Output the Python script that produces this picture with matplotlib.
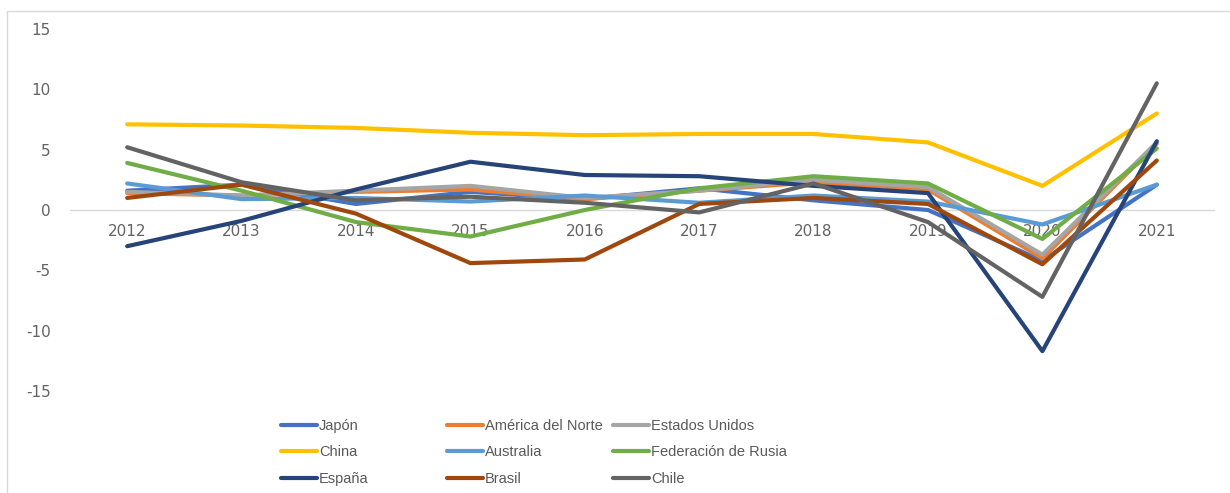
import matplotlib
matplotlib.use("Agg")
import matplotlib.pyplot as plt
from matplotlib.patches import Rectangle

years = ["2012", "2013", "2014", "2015", "2016", "2017", "2018", "2019", "2020", "2021"]

japon = [1.6, 2.1, 0.5, 1.5, 0.9, 1.8, 0.8, 0.0, -4.2, 2.1]
america_norte = [1.4, 1.2, 1.5, 1.7, 0.9, 1.6, 2.3, 1.7, -4.0, 5.5]
estados_unidos = [1.5, 1.2, 1.6, 2.0, 1.0, 1.6, 2.5, 1.9, -3.7, 5.6]
china = [7.1, 7.0, 6.8, 6.4, 6.2, 6.3, 6.3, 5.6, 2.0, 8.0]
australia = [2.2, 0.9, 1.0, 0.7, 1.2, 0.6, 1.2, 0.7, -1.2, 2.1]
rusia = [3.9, 1.6, -1.0, -2.2, 0.0, 1.8, 2.8, 2.2, -2.4, 5.1]
espana = [-3.0, -0.9, 1.7, 4.0, 2.9, 2.8, 2.0, 1.4, -11.7, 5.7]
brasil = [1.0, 2.1, -0.3, -4.4, -4.1, 0.5, 1.0, 0.5, -4.5, 4.1]
chile = [5.2, 2.3, 0.8, 1.1, 0.6, -0.2, 2.2, -1.0, -7.2, 10.5]

series_names = ["Japón", "América del Norte", "Estados Unidos", "China", "Australia",
                "Federación de Rusia", "España", "Brasil", "Chile"]
series_values = [japon, america_norte, estados_unidos, china, australia,
                 rusia, espana, brasil, chile]
series_colors = ["#4472C4", "#ED7D31", "#A5A5A5", "#FFC000", "#5B9BD5",
                 "#70AD47", "#264478", "#9E480E", "#636363"]

y_ticks = [-15, -10, -5, 0, 5, 10, 15]
y_tick_labels = ["-15", "-10", "-5", "0", "5", "10", "15"]

W, H = 1230, 493
fig = plt.figure(figsize=(W / 100, H / 100), dpi=100)
ax = fig.add_axes([70 / W, 1 - 391 / H, (1214 - 70) / W, (391 - 29) / H])

x = list(range(len(years)))
handles = []
for name, vals, col in zip(series_names, series_values, series_colors):
    (h,) = ax.plot(x, vals, color=col, lw=3.0, label=name, solid_capstyle="round",
                   solid_joinstyle="round")
    handles.append(h)

ax.set_xlim(-0.5, len(years) - 0.5)
ax.set_ylim(-15, 15)
ax.set_yticks(y_ticks)
ax.set_yticklabels(y_tick_labels)
ax.set_xticks(x)
ax.set_xticklabels(years)

for s in ["left", "right", "top"]:
    ax.spines[s].set_visible(False)
ax.spines["bottom"].set_position(("data", 0))
ax.spines["bottom"].set_color("#D9D9D9")
ax.spines["bottom"].set_linewidth(1.0)
ax.spines["bottom"].set_zorder(0)

ax.tick_params(axis="both", length=0, colors="#636363", labelsize=11)
ax.tick_params(axis="x", pad=10)
ax.tick_params(axis="y", pad=14)
for lbl in ax.get_xticklabels() + ax.get_yticklabels():
    lbl.set_family("DejaVu Sans")
ax.patch.set_visible(False)

# legend: three columns, filled row-wise
col_x = [281, 447, 613]
for c in range(3):
    hs = handles[c::3]
    fig.legend(hs, [h.get_label() for h in hs], loc="upper left",
               bbox_to_anchor=(col_x[c] / W, 1 - 419 / H), frameon=False,
               borderpad=0, borderaxespad=0, handlelength=2.45, handletextpad=0.15,
               labelspacing=0.85, prop={"family": "Liberation Sans", "size": 10.5},
               labelcolor="#595959")

fig.patches.append(Rectangle((7 / W, -0.1), 1.2, 1.1 - 11 / H, transform=fig.transFigure,
                             fill=False, edgecolor="#D9D9D9", lw=1.0))

fig.savefig("out.png", dpi=100, facecolor="white")
